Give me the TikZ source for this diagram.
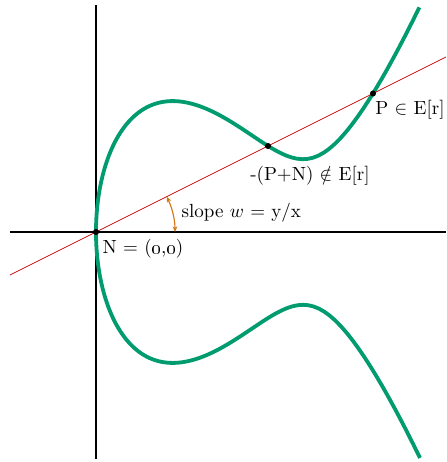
\documentclass[tikz,border=0pt]{standalone}
\usepackage{amsmath}
\usepackage{amssymb}
\usepackage{tikz}
\usetikzlibrary{arrows.meta, calc}
\definecolor{curvegreen}{RGB}{0,155,110}
\definecolor{linered}{RGB}{190,20,20}
\definecolor{arcorange}{RGB}{210,120,20}

\begin{document}
\begin{tikzpicture}[x=1.85cm, y=1.85cm, >=Stealth]
  \useasboundingbox (-0.96,-2.30) rectangle (3.50,2.32);
  % Axes
  \coordinate (N) at (0,0);
  \coordinate (xl) at (-0.86,0);
  \coordinate (xr) at (3.50,0);
  \coordinate (yb) at (0,-2.27);
  \coordinate (yt) at (0,2.27);
  \draw[line width=0.6pt] (xl) -- (xr);
  \draw[line width=0.6pt] (yb) -- (yt);

  % Curve y^2 = k x^3 + a x^2 + b x, with x = t^2
  \draw[line width=2pt, curvegreen, domain=-1.8:1.8, samples=200, variable=\t]
    plot ({\t*\t}, {\t*sqrt(1.07*\t*\t*\t*\t - 4.554*\t*\t + 5.098)});

  % Secant through N
  \coordinate (lineL) at (-0.86,-0.43);
  \coordinate (lineR) at (3.50,1.75);
  \coordinate (Q) at (1.72,0.86);
  \coordinate (P) at (2.77,1.385);
  \draw[linered, thin] (lineL) -- (lineR);

  % Angle arc
  \draw[<->, arcorange, semithick, >={Stealth[length=3pt,width=2.5pt]}]
    ($(N)+(0:0.79)$) arc (0:26.57:0.79);

  % Points
  \fill (N) circle (1.6pt);
  \fill (Q) circle (1.6pt);
  \fill (P) circle (1.6pt);

  % Labels
  \node (Nlabel) at (0.47,-0.17) {N = (\oldstylenums{0},\oldstylenums{0})};
  \node[anchor=west] (slopelabel) at (0.79,0.19) {slope $w$ = y/x};
  \node (Qlabel) at (2.14,0.56) {-(P+N) $\notin$ E[r]};
  \node (Plabel) at (3.14,1.22) {P $\in$ E[r]};
\end{tikzpicture}
\end{document}
